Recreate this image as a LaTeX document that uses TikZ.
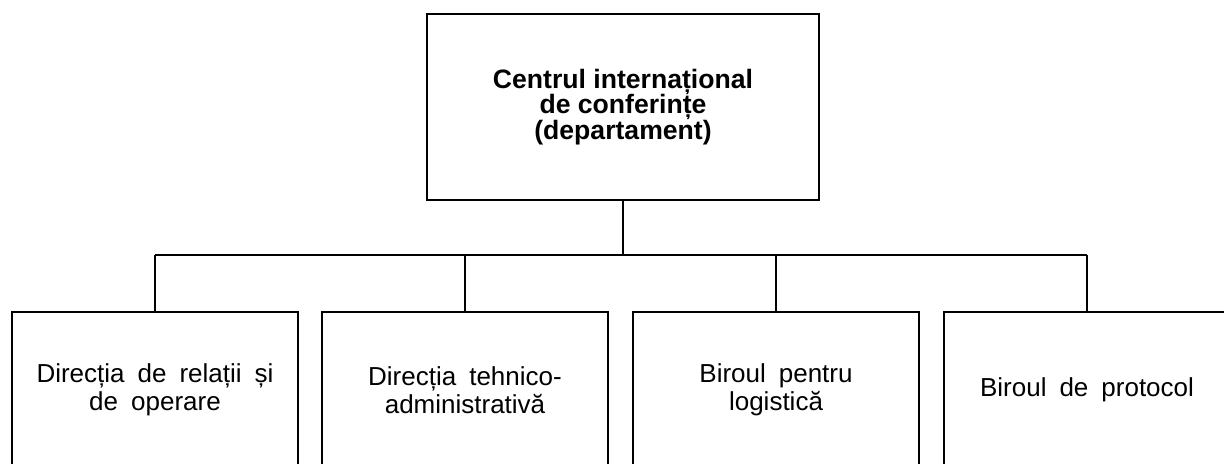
\documentclass[tikz,border=0pt]{standalone}
\usepackage{fontspec}
\setmainfont{Liberation Sans}
\usetikzlibrary{calc,positioning}
\tikzset{
  headbox/.style={draw,line width=1pt,inner sep=0pt,minimum width=196pt,minimum height=93pt,
    align=center,font={\bfseries\fontsize{13.3}{12.8}\selectfont}},
  unitbox/.style={draw,line width=1pt,inner sep=0pt,minimum width=143pt,minimum height=78pt,
    align=center,font={\fontsize{13}{14}\selectfont\spaceskip=0.5em\relax}},
  link/.style={line width=0.7pt}
}
\begin{document}
\begin{tikzpicture}[x=0.5pt,y=-0.5pt]
  \clip (0,0) rectangle (1224,464);
  \node[headbox] at (623,107) (top) {Centrul internațional\\de conferințe\\(departament)};
  \node[unitbox] at (155,390) (b1) {Direcția de relații și\\de operare};
  \node[unitbox] at (465,390) (b2) {Direcția tehnico-\\administrativă};
  \node[unitbox] at (776,390) (b3) {Biroul pentru\\logistică};
  \node[unitbox] at (1087,390) (b4) {Biroul de protocol};
  \coordinate (bus) at (623,255);

  \draw[link] (top.south) -- (bus);
  \draw[link] (bus -| b1.north) -- (bus -| b4.north);
  \foreach \i in {1,...,4}
    \draw[link] (bus -| b\i.north) -- (b\i.north);
\end{tikzpicture}
\end{document}
